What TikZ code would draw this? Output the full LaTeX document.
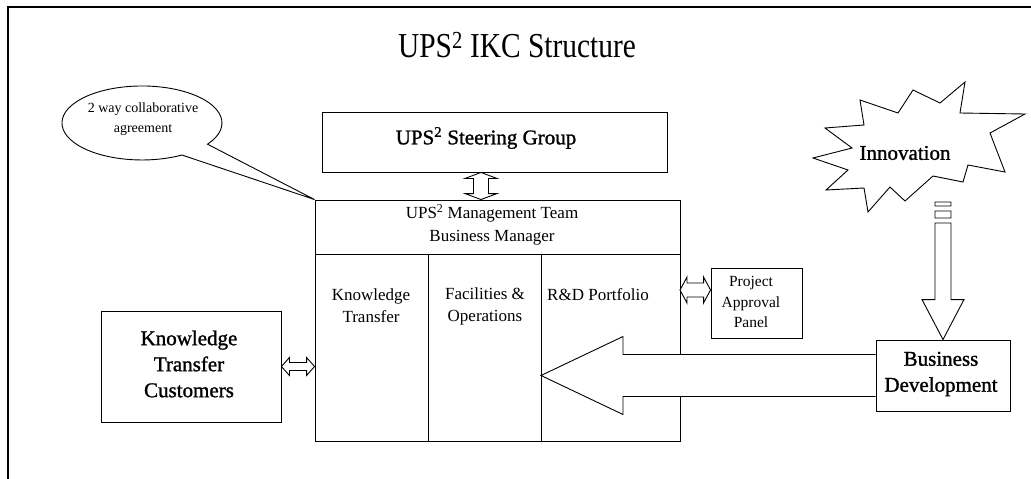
\documentclass[tikz,border=0pt]{standalone}
\usepackage{fontspec}
\setmainfont{Liberation Serif}
\newfontfamily\heavyserif[FakeBold=1.2]{Liberation Serif}
\usetikzlibrary{calc}

% horizontal two-headed block arrow: #1 left point, #2 right point,
% #3 half shaft width, #4 half head width, #5 head length
\newcommand\hdbl[5]{\draw[blk] let \p1=(#1), \p2=(#2) in
  (\x1,\y1) -- (\x1+#5,\y1+#4) -- (\x1+#5,\y1+#3) -- (\x2-#5,\y1+#3) -- (\x2-#5,\y1+#4)
  -- (\x2,\y1) -- (\x2-#5,\y1-#4) -- (\x2-#5,\y1-#3) -- (\x1+#5,\y1-#3) -- (\x1+#5,\y1-#4) -- cycle;}
% vertical two-headed block arrow: #1 top point, #2 bottom point
\newcommand\vdbl[5]{\draw[blk] let \p1=(#1), \p2=(#2) in
  (\x1,\y1) -- (\x1+#4,\y1-#5) -- (\x1+#3,\y1-#5) -- (\x1+#3,\y2+#5) -- (\x1+#4,\y2+#5)
  -- (\x1,\y2) -- (\x1-#4,\y2+#5) -- (\x1-#3,\y2+#5) -- (\x1-#3,\y1-#5) -- (\x1-#4,\y1-#5) -- cycle;}

\begin{document}
\begin{tikzpicture}[x=1pt,y=-1pt,line width=0.9pt,
  box/.style={draw,rectangle,inner sep=0pt},
  blk/.style={draw,fill=white,line join=miter},
  big/.style={font=\heavyserif\fontsize{21}{26}\selectfont,align=center,inner sep=0pt},
  mid/.style={font=\fontsize{17}{22}\selectfont,align=center,inner sep=0pt},
  small/.style={font=\fontsize{15.5}{20.5}\selectfont,align=center,inner sep=0pt}]
\useasboundingbox (0,0) rectangle (1031,479);
\fill[white] (0,0) rectangle (1031,479);
\draw[line width=2pt] (8,479) |- (1031,7);

% title
\node[font=\fontsize{35}{40}\selectfont,inner sep=0pt] (title) at (517,45)
  {\scalebox{0.84}[1]{UPS\textsuperscript{2} IKC Structure}};

% boxes
\node[box,minimum width=345,minimum height=60] (steer) at (494.5,142) {};
\node[big] (steertxt) at (486,138) {UPS\textsuperscript{2} Steering Group};

\node[box,minimum width=365,minimum height=241] (mgmt) at (497.5,320.5) {};
\coordinate (h1) at (315,254);
\coordinate (h2) at (680,254);
\draw (h1) -- (h2);
\coordinate (c2) at (428,254);
\coordinate (c3) at (541,254);
\draw (c2) -- (c2 |- mgmt.south);
\draw (c3) -- (c3 |- mgmt.south);
\node[mid,font=\fontsize{17}{23}\selectfont] (mgtxt) at (492,225) {UPS\textsuperscript{2} Management Team\\Business Manager};
\node[mid] (kt) at (371,306) {Knowledge\\Transfer};
\node[mid] (fo) at (485,306) {Facilities \&\\Operations};
\node[mid] (rd) at (598,295) {R\&D Portfolio};

\node[box,minimum width=91,minimum height=70] (pap) at (756.5,303) {};
\node[small] (paptxt) at (751,302) {Project\\Approval\\Panel};

\node[box,minimum width=180,minimum height=111] (ktc) at (191,366.5) {};
\node[big] (ktctxt) at (189,364) {Knowledge\\Transfer\\Customers};

\node[box,minimum width=134,minimum height=71] (bd) at (943,375.5) {};
\node[big] (bdtxt) at (941,374) {Business\\Development};

% callout
\coordinate (ctip) at (mgmt.north west);
\draw[fill=white] (ctip) -- (207.5,144.2)
  arc[start angle=35,end angle=-300,x radius=80,y radius=37] -- cycle;
\node[font=\fontsize{14}{20}\selectfont,align=center,inner sep=0pt] (calltxt) at (143,119) {2 way collaborative\\agreement};

% innovation burst
\draw[fill=white,line join=miter] (965,82) -- (960,113) -- (1025,114) -- (990,133) -- (1005,172)
  -- (968,165) -- (963,182) -- (933,176) -- (905,201) -- (890,187) -- (868,212) -- (864,188)
  -- (826,190) -- (848,170) -- (813,158) -- (852,148) -- (825,128) -- (864,125) -- (860,100)
  -- (898,113) -- (913,90) -- (940,103) -- cycle;
\node[big] (inno) at (905,153) {Innovation};

% arrow from innovation down to business development
\coordinate (ia) at (943,202);
\draw[blk] let \p1=(ia), \p2=(bd.north) in
  (\x1-8,\y1) rectangle (\x1+8,\y1-4)
  (\x1-8,\y1-9) rectangle (\x1+8,\y1-16)
  (\x1-8,\y1-21) -- (\x1-8,\y2+40) -- (\x1-21,\y2+40) -- (\p2) -- (\x1+21,\y2+40) -- (\x1+8,\y2+40) -- (\x1+8,\y1-21) -- cycle;

% large arrow from business development into the R&D portfolio
\draw[blk] let \p1=(bd.west), \p2=(c3 |- bd.west) in
  (\x1,\y1+21) -- (\x2+82,\y1+21) -- (\x2+82,\y1+39) -- (\p2) -- (\x2+82,\y1-39) -- (\x2+82,\y1-21) -- (\x1,\y1-21);

% two-headed links
\coordinate (vt) at ($(steer.south)+(-13.5,0)$);
\coordinate (vb) at ($(mgmt.north)+(-16.5,0)$);
\vdbl{vt}{vb}{7.5}{16}{6}
\coordinate (pl) at (680,290);
\hdbl{pl}{pap.west |- pl}{7}{13}{7}
\hdbl{ktc.east}{mgmt.west |- ktc.east}{4}{9}{8}
\end{tikzpicture}
\end{document}
